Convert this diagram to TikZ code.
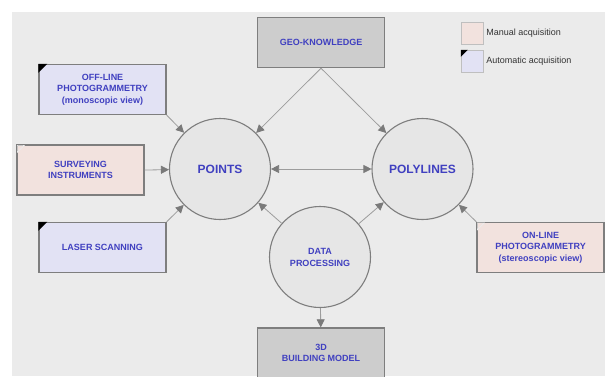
\documentclass[tikz,border=0pt]{standalone}
\usepackage{fontspec}
\setmainfont{Liberation Sans}
\usetikzlibrary{arrows.meta}
\definecolor{bgc}{HTML}{EBEBEB}
\definecolor{txtb}{HTML}{4040C0}
\definecolor{pinkf}{HTML}{F2E2DE}
\definecolor{bluef}{HTML}{E2E2F4}
\definecolor{grayf}{HTML}{CDCDCD}
\definecolor{circf}{HTML}{E6E6E6}
\definecolor{edgec}{HTML}{7E7E7E}
\definecolor{linec}{HTML}{9C9C9C}
\definecolor{tipc}{HTML}{7A7A7A}
\tikzset{
  box/.style={draw=edgec, line width=1.4pt, minimum width=#1, minimum height=50pt, inner sep=1pt,
    align=center, text=txtb, font=\bfseries\fontsize{9}{11.6}\selectfont},
  box/.default=127pt,
  autobox/.style={box, fill=bluef},
  manbox/.style={box, fill=pinkf},
  graybox/.style={box, fill=grayf},
  bubble/.style={circle, draw=edgec, line width=1.1pt, fill=circf, minimum size=101pt, inner sep=0pt,
    align=center, text=txtb, font=\bfseries\fontsize{12}{13}\selectfont},
  smallbubble/.style={bubble, font=\bfseries\fontsize{9}{12}\selectfont},
  conn/.style={draw=linec, line width=0.8pt, -{Triangle[length=8pt,width=8pt,color=tipc]}},
  dconn/.style={draw=linec, line width=0.8pt, {Triangle[length=8pt,width=8pt,color=tipc]}-{Triangle[length=8pt,width=8pt,color=tipc]}},
  legtext/.style={anchor=west, text=black!80, font=\fontsize{9}{10}\selectfont, inner sep=0pt},
}
\begin{document}
\begin{tikzpicture}[x=1pt,y=-1pt]
\useasboundingbox (0,0) rectangle (605,376);
\fill[white] (0,0) rectangle (605,376);
\fill[bgc] (12,12) rectangle (605,376);

% boxes
\node[graybox=128pt] (geo) at (321,42.5) {GEO-KNOWLEDGE};
\node[autobox] (off) at (102.5,89.5) {OFF-LINE\\PHOTOGRAMMETRY\\(monoscopic view)};
\node[manbox=129pt] (surv) at (80.5,170) {SURVEYING\\INSTRUMENTS};
\node[autobox] (laser) at (102.5,247.5) {LASER SCANNING};
\node[manbox] (online) at (540.5,247.5) {ON-LINE\\PHOTOGRAMMETRY\\(stereoscopic view)};
\node[graybox=128pt] (model) at (321,353) {3D\\BUILDING MODEL};

% corner marks
\fill[black] (off.north west) -- ++(9,0) -- ++(-9,9) -- cycle;
\fill[black] (laser.north west) -- ++(9,0) -- ++(-9,9) -- cycle;
\draw[white!85!gray, line width=0.6pt] ([shift={(1,1)}]surv.north west) -- ++(7,0) -- ++(-7,7) -- cycle;
\draw[white!85!gray, line width=0.6pt] ([shift={(1,1)}]online.north west) -- ++(7,0) -- ++(-7,7) -- cycle;

% circles
\node[bubble] (points) at (220,169) {POINTS};
\node[bubble] (poly) at (422.5,169) {POLYLINES};
\node[smallbubble] (dp) at (320,257) {DATA\\PROCESSING};

% connectors
\draw[conn] (geo.south) -- (points);
\draw[conn] (geo.south) -- (poly);
\draw[conn] (off.south east) -- (points);
\draw[conn] (surv.east) -- (points);
\draw[conn] (laser.north east) -- (points);
\draw[dconn] (points) -- (poly);
\draw[conn] (dp) -- (points);
\draw[conn] (dp) -- (poly);
\draw[conn] (online.north west) -- (poly);
\draw[conn] (dp) -- (model);

% legend
\node[draw=black!25, fill=pinkf, minimum size=22pt, inner sep=0pt] (lman) at (472,33) {};
\node[draw=black!25, fill=bluef, minimum size=22pt, inner sep=0pt] (lauto) at (472,61) {};
\fill[black] (lauto.north west) -- ++(7,0) -- ++(-7,7) -- cycle;
\node[legtext] (tman) at ([xshift=3pt]lman.east) {Manual acquisition};
\node[legtext] (tauto) at ([xshift=3pt]lauto.east) {Automatic acquisition};
\end{tikzpicture}
\end{document}
